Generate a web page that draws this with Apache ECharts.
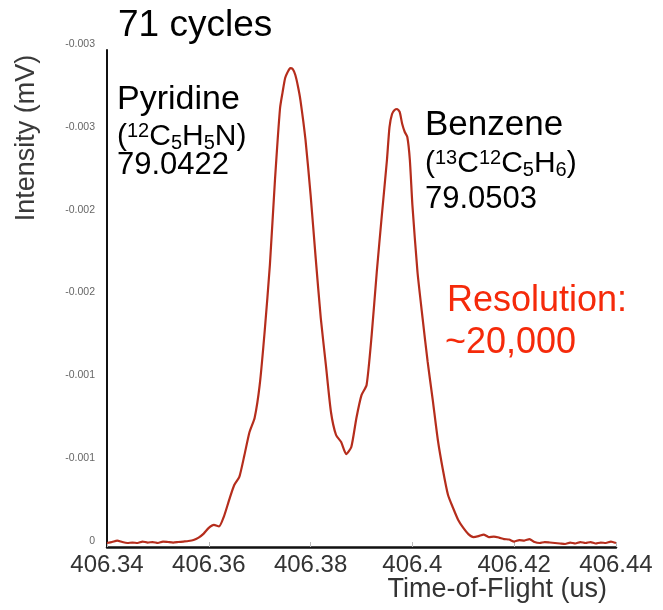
<!DOCTYPE html>
<html>
<head>
<meta charset="utf-8">
<script src="https://cdn.jsdelivr.net/npm/echarts@6/dist/echarts.min.js"></script>
<style>
  html, body { margin: 0; padding: 0; background: #fff; }
  #chart { width: 663px; height: 610px; }
</style>
</head>
<body>
<div id="chart"></div>
<script>
// Time-of-flight samples (us)
const times = [
  406.340, 406.341, 406.342, 406.343, 406.344, 406.345, 406.346, 406.347, 406.348, 406.349,
  406.350, 406.351, 406.352, 406.353, 406.354, 406.355, 406.356, 406.357, 406.358, 406.359,
  406.360, 406.361, 406.362, 406.363, 406.364, 406.365, 406.366, 406.367, 406.368, 406.369,
  406.370, 406.371, 406.372, 406.373, 406.374, 406.3745, 406.375, 406.3755, 406.376, 406.3765,
  406.377, 406.3775, 406.378, 406.379, 406.380, 406.381, 406.382, 406.383, 406.384, 406.385,
  406.386, 406.387, 406.388, 406.389, 406.390, 406.391, 406.392, 406.393, 406.394, 406.395,
  406.3955, 406.396, 406.3965, 406.397, 406.3975, 406.398, 406.3985, 406.399, 406.3995, 406.400,
  406.401, 406.402, 406.403, 406.404, 406.405, 406.406, 406.407, 406.408, 406.409, 406.410,
  406.411, 406.412, 406.413, 406.414, 406.415, 406.416, 406.417, 406.418, 406.419, 406.420,
  406.421, 406.422, 406.423, 406.424, 406.425, 406.426, 406.427, 406.428, 406.429, 406.430,
  406.431, 406.432, 406.433, 406.434, 406.435, 406.436, 406.437, 406.438, 406.439, 406.440
];

// Detector signal (mV), negative-going ion peaks
const intensity = [
  -0.000024, -0.000030, -0.000039, -0.000030, -0.000024, -0.000027, -0.000024, -0.000033, -0.000027, -0.000030,
  -0.000024, -0.000033, -0.000030, -0.000027, -0.000030, -0.000033, -0.000036, -0.000042, -0.000057, -0.000081,
  -0.000115, -0.000133, -0.000124, -0.000187, -0.000284, -0.000374, -0.000423, -0.000555, -0.000694, -0.000779,
  -0.000978, -0.001310, -0.001702, -0.002215, -0.002650, -0.002746, -0.002831, -0.002867, -0.002891, -0.002885,
  -0.002849, -0.002783, -0.002698, -0.002457, -0.002125, -0.001744, -0.001382, -0.001099, -0.000815, -0.000676,
  -0.000634, -0.000561, -0.000604, -0.000779, -0.000917, -0.000978, -0.001280, -0.001660, -0.002004, -0.002336,
  -0.002535, -0.002614, -0.002638, -0.002644, -0.002626, -0.002553, -0.002505, -0.002475, -0.002336, -0.002064,
  -0.001660, -0.001382, -0.001117, -0.000887, -0.000646, -0.000465, -0.000314, -0.000235, -0.000163, -0.000115,
  -0.000078, -0.000060, -0.000066, -0.000075, -0.000060, -0.000063, -0.000057, -0.000048, -0.000045, -0.000033,
  -0.000042, -0.000039, -0.000048, -0.000030, -0.000024, -0.000030, -0.000027, -0.000024, -0.000021, -0.000018,
  -0.000027, -0.000021, -0.000030, -0.000024, -0.000030, -0.000021, -0.000027, -0.000024, -0.000033, -0.000024
];

// Axis tick labels as printed by the acquisition software
const xTickLabels = ['406.34', '406.36', '406.38', '406.4', '406.42', '406.44'];
const yTickLabels = ['-0.003', '-0.003', '-0.002', '-0.002', '-0.001', '-0.001', '0'];

const X_MIN = 406.34, X_MAX = 406.44, X_STEP = 0.02;
const Y_MIN = -0.003, Y_MAX = 0, Y_STEP = 0.0005;

const FONT = '"Liberation Sans", Arial, Helvetica, sans-serif';

const chart = echarts.init(document.getElementById('chart'), null, { renderer: 'canvas' });

const formulaRich = {
  n:   { fontSize: 30, lineHeight: 32, fontFamily: FONT, color: '#000' },
  sup: { fontSize: 20, lineHeight: 14, verticalAlign: 'top', fontFamily: FONT, color: '#000' },
  sub: { fontSize: 20, lineHeight: 20, verticalAlign: 'bottom', fontFamily: FONT, color: '#000' }
};

function label(text, x, y, size, color) {
  return {
    type: 'text', x: x, y: y, silent: true,
    style: { text: text, fontSize: size, fontFamily: FONT, fill: color || '#000',
             align: 'left', verticalAlign: 'middle' }
  };
}

function formula(text, x, y) {
  return {
    type: 'text', x: x, y: y, silent: true,
    style: { text: text, rich: formulaRich, fontFamily: FONT, fill: '#000',
             align: 'left', verticalAlign: 'middle' }
  };
}

chart.setOption({
  animation: false,
  backgroundColor: '#fff',
  grid: { left: 107, right: 47, top: 50, bottom: 63, containLabel: false },
  xAxis: {
    type: 'value',
    min: X_MIN, max: X_MAX, interval: X_STEP,
    axisLine: { show: true, lineStyle: { color: '#111', width: 2.5 } },
    axisTick: { show: true, inside: true, length: 5, lineStyle: { color: '#bbb', width: 1 } },
    splitLine: { show: false },
    axisLabel: {
      margin: 6, fontSize: 24, color: '#333', fontFamily: FONT,
      showMinLabel: true, showMaxLabel: true,
      formatter: v => xTickLabels[Math.round((v - X_MIN) / X_STEP)]
    }
  },
  yAxis: {
    type: 'value',
    inverse: true,
    min: Y_MIN, max: Y_MAX, interval: Y_STEP,
    axisLine: { show: true, lineStyle: { color: '#111', width: 2 } },
    axisTick: { show: false },
    splitLine: { show: false },
    axisLabel: {
      margin: 12, fontSize: 10.5, color: '#666', fontFamily: FONT,
      verticalAlign: 'bottom', lineHeight: 12,
      showMinLabel: true, showMaxLabel: true,
      formatter: v => yTickLabels[Math.round((v - Y_MIN) / Y_STEP)]
    }
  },
  series: [{
    type: 'line',
    data: times.map((t, i) => [t, intensity[i]]),
    showSymbol: false,
    smooth: 0.2,
    lineStyle: { color: '#b52d1c', width: 2.2 }
  }],
  graphic: [
    {
      type: 'text', x: 27, y: 138, rotation: Math.PI / 2, silent: true,
      style: { text: 'Intensity (mV)', fontSize: 27, fontFamily: FONT, fill: '#3a3a3a',
               align: 'center', verticalAlign: 'middle' }
    },
    {
      type: 'text', x: 607, y: 590, silent: true,
      style: { text: 'Time-of-Flight (us)', fontSize: 27, fontFamily: FONT, fill: '#333',
               align: 'right', verticalAlign: 'middle' }
    },
    label('71 cycles', 118, 26, 37),
    label('Pyridine', 117, 100, 34),
    formula('{n|(}{sup|12}{n|C}{sub|5}{n|H}{sub|5}{n|N)}', 117, 137),
    label('79.0422', 117, 165, 31),
    label('Benzene', 425, 125, 35),
    formula('{n|(}{sup|13}{n|C}{sup|12}{n|C}{sub|5}{n|H}{sub|6}{n|)}', 425, 164),
    label('79.0503', 425, 199, 31),
    label('Resolution:', 447, 301, 36, '#f52a0a'),
    label('~20,000', 445, 343, 36, '#f52a0a')
  ]
});
</script>
</body>
</html>
